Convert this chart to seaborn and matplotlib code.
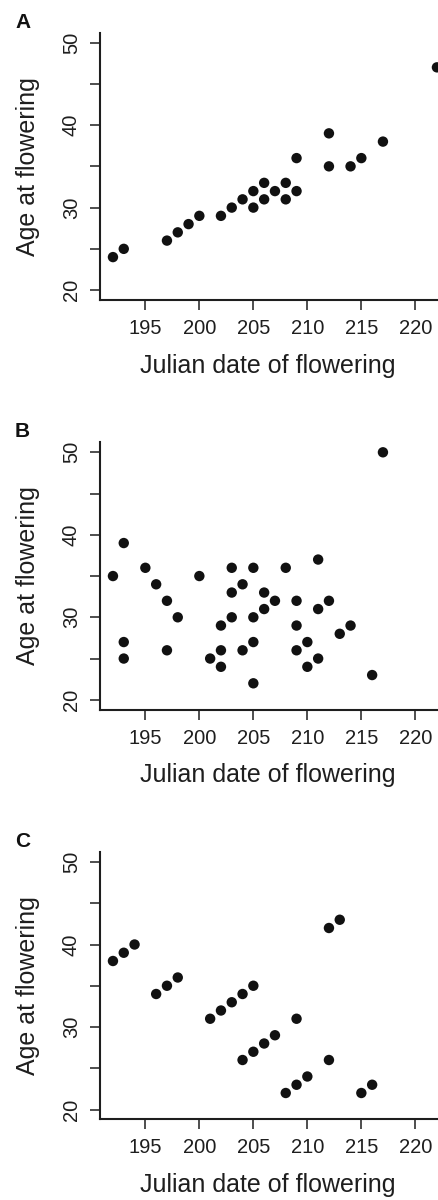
import matplotlib
matplotlib.use("Agg")
import matplotlib.pyplot as plt
import pandas as pd
import seaborn as sns

# panel A: flowering date vs age
a_date = [192, 193, 197, 198, 199, 200, 202, 203, 204, 205, 205, 206, 206, 207,
          208, 208, 209, 209, 212, 212, 214, 215, 217, 222]
a_age = [24, 25, 26, 27, 28, 29, 29, 30, 31, 30, 32, 31, 33, 32,
         31, 33, 32, 36, 35, 39, 35, 36, 38, 47]

# panel B
b_date = [192, 193, 193, 193, 195, 196, 197, 197, 198, 200, 201, 202, 202, 202,
          203, 203, 203, 204, 204, 205, 205, 205, 205, 206, 206, 207, 208, 209,
          209, 209, 210, 210, 211, 211, 211, 212, 213, 214, 216, 217]
b_age = [35, 39, 27, 25, 36, 34, 32, 26, 30, 35, 25, 29, 26, 24,
         36, 33, 30, 34, 26, 36, 30, 27, 22, 33, 31, 32, 36, 32,
         29, 26, 27, 24, 37, 31, 25, 32, 28, 29, 23, 50]

# panel C
c_date = [192, 193, 194, 196, 197, 198, 201, 202, 203, 204, 205, 204, 205, 206,
          207, 209, 208, 209, 210, 212, 212, 213, 215, 216]
c_age = [38, 39, 40, 34, 35, 36, 31, 32, 33, 34, 35, 26, 27, 28,
         29, 31, 22, 23, 24, 26, 42, 43, 22, 23]

panels = ["A", "B", "C"]
x_ticks = [195, 200, 205, 210, 215, 220]
y_ticks = [20, 25, 30, 35, 40, 45, 50]
y_tick_labels = ["20", "", "30", "", "40", "", "50"]

INK = "#1e1e1e"


def draw_panel(ax, df):
    sns.scatterplot(data=df, x="date", y="age", ax=ax, color="#111111",
                    s=56, edgecolor="none", linewidth=0, clip_on=True)
    ax.set_xlim(190.8, 223.2)
    ax.set_ylim(18.8, 51.2)
    ax.set_xticks(x_ticks)
    ax.set_yticks(y_ticks)
    ax.set_yticklabels(y_tick_labels, rotation=90, va="center")
    for side in ["top", "right"]:
        ax.spines[side].set_visible(False)
    for side in ["left", "bottom"]:
        ax.spines[side].set_linewidth(1.5)
        ax.spines[side].set_color(INK)
    ax.tick_params(axis="both", length=7.2, width=1.1, color=INK,
                   labelsize=14.5, labelcolor=INK, pad=6.5)
    ax.set_xlabel("Julian date of flowering", fontsize=18, color=INK)
    ax.set_ylabel("Age at flowering", fontsize=18, color=INK)
    ax.xaxis.set_label_coords(0.480, -0.272)
    ax.xaxis.label.set_va("baseline")
    ax.yaxis.set_label_coords(-0.1715, 0.5)


def main() -> None:
    sns.set_theme(style="ticks")
    plt.rcParams["font.family"] = ["Liberation Sans", "DejaVu Sans"]

    frames = [
        pd.DataFrame({"date": a_date, "age": a_age}),
        pd.DataFrame({"date": b_date, "age": b_age}),
        pd.DataFrame({"date": c_date, "age": c_age}),
    ]

    fig = plt.figure(figsize=(4.38, 12), dpi=100)
    W, H = 438.0, 1200.0
    left = 100 / W
    width = 349.9 / W
    height = 267.3 / H
    spine_bottoms = [300.0, 709.7, 1119.4]
    letter_base = [28.0, 437.5, 847.0]

    for name, df, yb, lb in zip(panels, frames, spine_bottoms, letter_base):
        ax = fig.add_axes([left, 1 - yb / H, width, height])
        draw_panel(ax, df)
        fig.text(15 / W, 1 - lb / H, name, fontsize=15, fontweight="bold",
                 color="#111111", va="baseline", ha="left")

    fig.savefig("out.png", dpi=100)
    plt.close(fig)


if __name__ == "__main__":
    main()
